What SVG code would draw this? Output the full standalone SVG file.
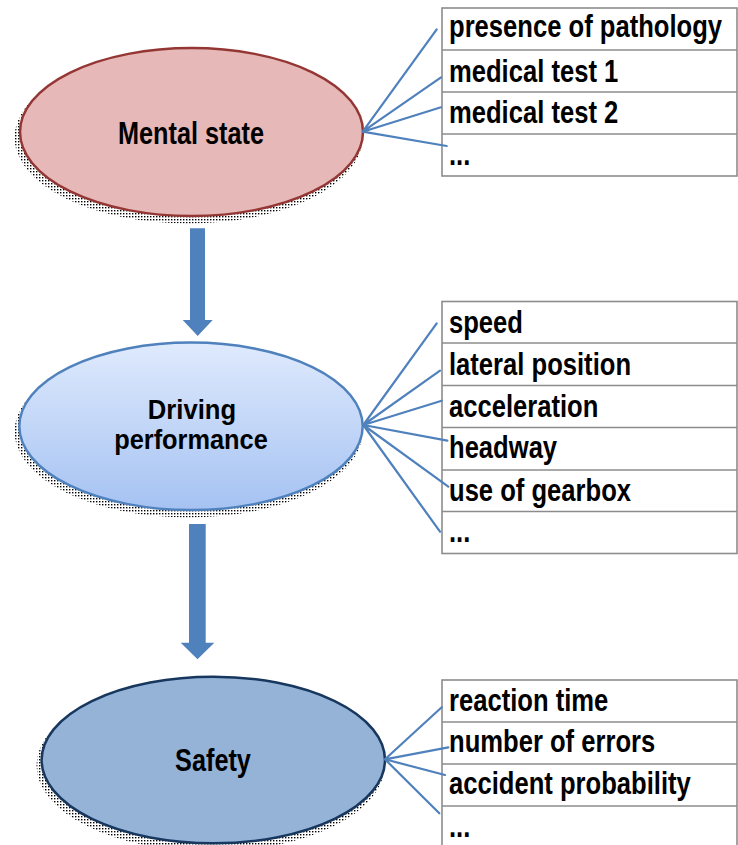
<svg xmlns="http://www.w3.org/2000/svg" width="738" height="845" viewBox="0 0 738 845">
  <style>
    .label { font-family: "Liberation Sans", Arial, sans-serif; font-weight: bold; font-size: 32px; fill: #000; text-anchor: middle; }
    .label2 { font-family: "Liberation Sans", Arial, sans-serif; font-weight: bold; font-size: 27px; fill: #000; text-anchor: middle; }
    .cell { font-family: "Liberation Sans", Arial, sans-serif; font-weight: bold; font-size: 32px; fill: #000; }
    .frame { fill: #fff; stroke: #8c8c8c; stroke-width: 1.6; }
    .rule { stroke: #8c8c8c; stroke-width: 1.6; }
    .fan { stroke: #4f81bd; stroke-width: 2.2; fill: none; stroke-linecap: round; }
    .block { fill: #4f81bd; }
    .shadow { fill: url(#dots); }
  </style>
  <defs>
    <!-- halftone dots used for the soft drop shadows -->
    <pattern id="dots" width="3" height="3" patternUnits="userSpaceOnUse">
      <rect x="0" y="0" width="1.4" height="1.4" fill="#000"/>
    </pattern>
    <linearGradient id="blueFill" x1="0" y1="0" x2="0" y2="1">
      <stop offset="0" stop-color="#dfeafd"/>
      <stop offset="1" stop-color="#a5c2f2"/>
    </linearGradient>
  </defs>

  <rect width="738" height="845" fill="#fff"/>

  <!-- ellipse nodes; labels are horizontally condensed -->
  <g id="node-mental-state">
    <ellipse class="shadow" cx="188.5" cy="137.5" rx="174" ry="86"/>
    <ellipse cx="191.5" cy="132" rx="171.5" ry="84" fill="#e6b8b7" stroke="#943634" stroke-width="2.5"/>
    <text class="label" transform="translate(191 143.5) scale(0.79 1)">Mental state</text>
  </g>

  <g id="node-driving-performance">
    <ellipse class="shadow" cx="188.5" cy="431.5" rx="174" ry="86"/>
    <ellipse cx="191" cy="426.3" rx="171.7" ry="83.7" fill="url(#blueFill)" stroke="#4f81bd" stroke-width="2.5"/>
    <text class="label2" transform="translate(192 418.5) scale(0.95 1)">Driving</text>
    <text class="label2" transform="translate(191 449) scale(0.94 1)">performance</text>
  </g>

  <g id="node-safety">
    <ellipse class="shadow" cx="210.5" cy="765.5" rx="174" ry="86"/>
    <ellipse cx="213.3" cy="760" rx="171.7" ry="83.3" fill="#95b3d7" stroke="#17375e" stroke-width="2.5"/>
    <text class="label" transform="translate(213 770.5) scale(0.79 1)">Safety</text>
  </g>

  <!-- indicator tables; cell texts are condensed to 80% width -->
  <g id="table-mental-state">
    <rect class="frame" x="442" y="8" width="295" height="168"/>
    <line class="rule" x1="442" y1="50" x2="737" y2="50"/>
    <line class="rule" x1="442" y1="92" x2="737" y2="92"/>
    <line class="rule" x1="442" y1="134" x2="737" y2="134"/>
    <text class="cell" transform="translate(449 37) scale(0.8 1)">presence of pathology</text>
    <text class="cell" transform="translate(449 81.5) scale(0.8 1)">medical test 1</text>
    <text class="cell" transform="translate(449 123) scale(0.8 1)">medical test 2</text>
    <text class="cell" transform="translate(449 165) scale(0.8 1)">...</text>
  </g>

  <g id="table-driving-performance">
    <rect class="frame" x="442" y="301.5" width="295" height="252"/>
    <line class="rule" x1="442" y1="343" x2="737" y2="343"/>
    <line class="rule" x1="442" y1="385.5" x2="737" y2="385.5"/>
    <line class="rule" x1="442" y1="427.5" x2="737" y2="427.5"/>
    <line class="rule" x1="442" y1="470" x2="737" y2="470"/>
    <line class="rule" x1="442" y1="511.5" x2="737" y2="511.5"/>
    <text class="cell" transform="translate(449 332.5) scale(0.8 1)">speed</text>
    <text class="cell" transform="translate(449 374.5) scale(0.8 1)">lateral position</text>
    <text class="cell" transform="translate(449 417) scale(0.8 1)">acceleration</text>
    <text class="cell" transform="translate(449 458) scale(0.8 1)">headway</text>
    <text class="cell" transform="translate(449 500.5) scale(0.8 1)">use of gearbox</text>
    <text class="cell" transform="translate(449 542) scale(0.8 1)">...</text>
  </g>

  <g id="table-safety">
    <rect class="frame" x="442" y="680" width="295" height="170"/>
    <line class="rule" x1="442" y1="722" x2="737" y2="722"/>
    <line class="rule" x1="442" y1="764" x2="737" y2="764"/>
    <line class="rule" x1="442" y1="806" x2="737" y2="806"/>
    <text class="cell" transform="translate(449 710.5) scale(0.8 1)">reaction time</text>
    <text class="cell" transform="translate(449 752) scale(0.8 1)">number of errors</text>
    <text class="cell" transform="translate(449 794) scale(0.8 1)">accident probability</text>
    <text class="cell" transform="translate(449 837) scale(0.8 1)">...</text>
  </g>

  <!-- connectors: fan lines to the tables and block arrows between nodes -->
  <g id="connectors">
    <path class="fan" d="M362.7 131.7 L436.7 29.3 M362.7 131.7 L441 77.3 M362.7 131.7 L441 107.3 M362.7 131.7 L446.7 146"/>
    <path class="fan" d="M363.3 425 L436.7 323.3 M363.3 425 L440 370.7 M363.3 425 L441.7 400.7 M363.3 425 L447.3 440.7 M363.3 425 L448.3 486.7 M363.3 425 L440 531.7"/>
    <path class="fan" d="M385 759.3 L441.7 707.3 M385 759.3 L448.3 747.3 M385 759.3 L445 775 M385 759.3 L439.3 813.3"/>
    <polygon class="block" points="190,228.3 205,228.3 205,320 212.7,320 197.7,336 182.7,320 190,320"/>
    <polygon class="block" points="189,524 205.7,524 205.7,642.7 214.3,642.7 197.5,659.3 180.7,642.7 189,642.7"/>
  </g>
</svg>
